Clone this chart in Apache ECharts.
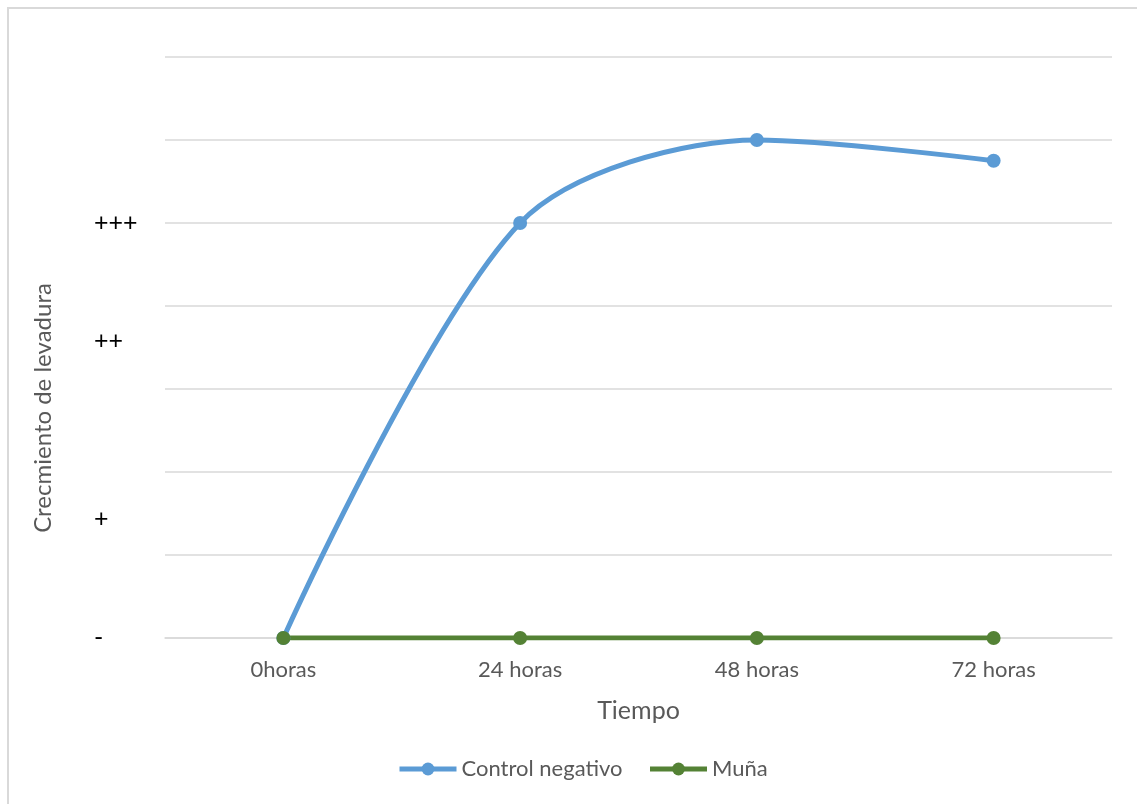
<!DOCTYPE html>
<html>
<head>
<meta charset="utf-8">
<script src="https://cdn.jsdelivr.net/npm/echarts@6/dist/echarts.min.js"></script>
<style>
  html, body { margin: 0; padding: 0; background: #fff; }
  #chart { width: 1137px; height: 804px; }
</style>
</head>
<body>
<div id="chart"></div>
<script>
// Sampling times
const categories = ['0horas', '24 horas', '48 horas', '72 horas'];
// Growth scores per series
const controlNegativo = [0, 5, 6, 5.75];
const muna = [0, 0, 0, 0];
// Qualitative growth levels shown beside the value axis, with the value each one sits at
const levelLabels = ['-', '+', '++', '+++'];
const levelValues = [0, 1.43, 3.58, 5];

const FONT = 'Lato, "Open Sans", sans-serif';
const chart = echarts.init(document.getElementById('chart'), null, { renderer: 'canvas' });

const option = {
  backgroundColor: '#ffffff',
  animation: false,
  grid: { left: 165, right: 25, top: 57, bottom: 166 },
  legend: {
    bottom: 19,
    left: 392,
    itemWidth: 57,
    itemHeight: 16,
    itemGap: 25,
    lineStyle: { width: 5 },
    textStyle: { color: '#595959', fontSize: 22, fontFamily: FONT },
    data: ['Control negativo', 'Muña']
  },
  xAxis: {
    type: 'category',
    data: categories,
    boundaryGap: true,
    name: 'Tiempo',
    nameLocation: 'middle',
    nameGap: 60,
    nameTextStyle: { color: '#595959', fontSize: 25, fontFamily: FONT },
    axisLine: { lineStyle: { color: '#d9d9d9', width: 1.5 } },
    axisTick: { show: false },
    axisLabel: { color: '#595959', fontSize: 22, fontFamily: FONT, margin: 21 }
  },
  yAxis: {
    type: 'value',
    min: 0,
    max: 7,
    interval: 1,
    axisLine: { show: false },
    axisTick: { show: false },
    axisLabel: { show: false },
    splitLine: { lineStyle: { color: '#d9d9d9', width: 1.5 } }
  },
  series: [
    {
      name: 'Control negativo',
      type: 'line',
      data: controlNegativo,
      smooth: 0.3,
      symbol: 'circle',
      symbolSize: 14,
      itemStyle: { color: '#5b9bd5' },
      lineStyle: { color: '#5b9bd5', width: 5 }
    },
    {
      name: 'Muña',
      type: 'line',
      data: muna,
      symbol: 'circle',
      symbolSize: 14,
      itemStyle: { color: '#548235' },
      lineStyle: { color: '#548235', width: 5 }
    }
  ]
};
chart.setOption(option);

// Level marks beside the value axis, the value-axis title and the outer frame
const levelTexts = levelLabels.map((t, i) => ({
  type: 'text',
  x: 94,
  y: chart.convertToPixel({ yAxisIndex: 0 }, levelValues[i]),
  style: { text: t, fill: '#000000', fontSize: 25, fontFamily: FONT, align: 'left', verticalAlign: 'middle' }
}));

chart.setOption({
  graphic: [
    {
      type: 'rect',
      shape: { x: 8, y: 8, width: 1200, height: 900 },
      style: { fill: null, stroke: '#d9d9d9', lineWidth: 2 },
      silent: true,
      z: -1
    },
    {
      type: 'text',
      x: 43,
      y: 408,
      rotation: Math.PI / 2,
      style: {
        text: 'Crecmiento de levadura',
        fill: '#595959',
        fontSize: 24,
        fontFamily: FONT,
        align: 'center',
        verticalAlign: 'middle'
      }
    }
  ].concat(levelTexts)
});
</script>
</body>
</html>
